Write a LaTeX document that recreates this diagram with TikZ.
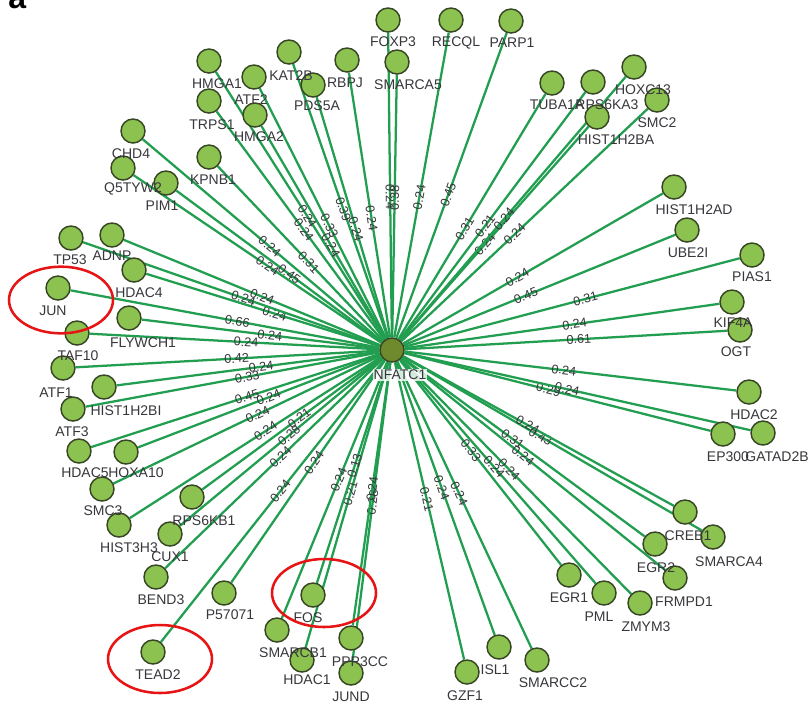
\documentclass[tikz,border=0pt]{standalone}
\usepackage{fontspec}
\setmainfont{Liberation Sans}
\pgfdeclarelayer{back}
\pgfdeclarelayer{links}
\pgfsetlayers{back,links,main}
\definecolor{edgegreen}{RGB}{34,158,80}
\definecolor{nodefill}{RGB}{140,194,80}
\definecolor{nodedraw}{RGB}{55,70,35}
\definecolor{hubfill}{RGB}{110,138,45}
\definecolor{txt}{RGB}{55,55,60}
\definecolor{ringred}{RGB}{230,20,20}
\begin{document}
\begin{tikzpicture}[x=0.75pt,y=-0.75pt,
  gene/.style={circle, fill=nodefill, draw=nodedraw, line width=1.1pt, minimum size=18pt, inner sep=0pt},
  hub/.style={gene, fill=hubfill},
  glab/.style={text=txt, font=\fontsize{10.5}{12}\selectfont, inner sep=0.5pt},
  link/.style={draw=edgegreen, line width=1.7pt},
  elab/.style={text=txt, font=\fontsize{9.5}{11}\selectfont, inner sep=0pt, sloped},
  redring/.style={draw=ringred, line width=1.9pt}]
\useasboundingbox (0,0) rectangle (809,708);
\begin{pgfonlayer}{back}
\fill[white] (0,0) rectangle (809,708);
\end{pgfonlayer}
\def\genelist{FOXP3/388/20/393/42,RECQL/451/20/456/43,PARP1/511/21/512/43,SMARCA5/397/62/408/85,RBPJ/347/60/345/83,PDS5A/313/85/317/106,KAT2B/289/52/291/76,ATF2/254/77/251/100,HMGA1/209/61/217/84,HMGA2/255/115/259/137,TRPS1/209/101/212/125,KPNB1/209/157/213/180,CHD4/133/131/131/154,Q5TYW2/123/168/133/189,PIM1/166/183/162/206,TP53/71/238/70/260,ADNP/112/235/112/256,HDAC4/134/270/139/293,JUN/58/288/53/311,FLYWCH1/129/318/143/343,TAF10/77/333/78/356,ATF1/63/368/56/393,HIST1H2BI/104/387/126/411,ATF3/73/409/72/432,HDAC5/79/451/85/473,HOXA10/126/452/136/473,SMC3/102/489/103/511,HIST3H3/119/525/129/548,RPS6KB1/192/497/204/521,CUX1/170/534/170/557,BEND3/156/577/161/600,P57071/224/593/230/615,TEAD2/153/652/158/675,FOS/313/595/308/618,SMARCB1/277/630/293/653,HDAC1/302/660/307/680,PPP3CC/351/638/360/662,JUND/351/673/351/697,GZF1/467/672/465/696,ISL1/499/647/495/670,SMARCC2/537/660/553/683,EGR1/569/575/569/598,PML/604/593/599/617,ZMYM3/640/603/646/627,FRMPD1/675/578/684/602,EGR2/655/544/656/568,CREB1/685/512/688/536,SMARCA4/713/537/729/562,EP300/723/434/728/457,GATAD2B/763/433/777/457,HDAC2/749/392/754/415,OGT/740/330/736/352,KIF4A/732/302/733/323,PIAS1/752/255/752/277,UBE2I/687/230/688/253,HIST1H2AD/674/187/694/210,SMC2/657/100/657/123,HIST1H2BA/597/117/616/140,HOXC13/634/67/643/90,RPS6KA3/593/82/607/105,TUBA1A/552/83/557/105}
% circles
\node[hub] (NFATC1) at (392,350) {};
\foreach \n/\x/\y/\lx/\ly in \genelist {\node[gene] (\n) at (\x,\y) {};}
% gene labels
\foreach \n/\x/\y/\lx/\ly in \genelist {\node[glab] (\n-l) at (\lx,\ly) {\n};}
\node[glab, fill=white, fill opacity=0.8, text opacity=1] (NFATC1-l) at (400,375) {NFATC1};
% connectors with weights
\begin{pgfonlayer}{links}
\foreach \n/\p/\w in {FOXP3/0.46/0.24,SMARCA5/0.53/0.38,RBPJ/0.45/0.24,RECQL/0.46/0.24,PARP1/0.47/0.45,TUBA1A/0.45/0.31,RPS6KA3/0.46/0.21,HIST1H2BA/0.45/0.24,HOXC13/0.46/0.24,SMC2/0.46/0.24,HIST1H2AD/0.44/0.24,UBE2I/0.45/0.45,PIAS1/0.54/0.31,KIF4A/0.54/0.24,OGT/0.54/0.61,HDAC2/0.48/0.24,EP300/0.47/0.29,GATAD2B/0.47/0.24,SMARCA4/0.46/0.43,CREB1/0.46/0.24,EGR2/0.455/0.31,FRMPD1/0.46/0.24,ZMYM3/0.47/0.24,PML/0.48/0.24,EGR1/0.44/0.33,SMARCC2/0.46/0.24,ISL1/0.46/0.24,GZF1/0.46/0.21,JUND/0.47/0.28,PPP3CC/0.48/0.24,HDAC1/0.46/0.21,FOS/0.47/0.13,SMARCB1/0.46/0.24,P57071/0.46/0.24,TEAD2/0.465/0.24,BEND3/0.47/0.24,CUX1/0.46/0.28,RPS6KB1/0.46/0.21,HIST3H3/0.46/0.24,SMC3/0.46/0.24,HOXA10/0.46/0.24,HDAC5/0.46/0.45,ATF3/0.45/0.33,HIST1H2BI/0.45/0.24,ATF1/0.47/0.42,TAF10/0.46/0.24,FLYWCH1/0.46/0.24,JUN/0.46/0.66,HDAC4/0.45/0.24,ADNP/0.46/0.24,TP53/0.46/0.24,PIM1/0.45/0.45,Q5TYW2/0.46/0.24,CHD4/0.47/0.24,KPNB1/0.45/0.31,TRPS1/0.48/0.24,HMGA1/0.46/0.24,HMGA2/0.44/0.24,ATF2/0.45/0.33,KAT2B/0.47/0.39,PDS5A/0.45/0.24}
  {\draw[link] (NFATC1) -- node[elab, pos=\p] {\w} (\n);}
\end{pgfonlayer}
% highlight rings
\draw[redring] (61,300) ellipse [x radius=39pt, y radius=25pt];
\draw[redring] (324,593) ellipse [x radius=39pt, y radius=25.5pt];
\draw[redring] (160,659) ellipse [x radius=39pt, y radius=25.5pt];
% panel letter
\node[font=\bfseries\fontsize{24}{24}\selectfont, anchor=base west, inner sep=0pt] (panel) at (8,8.5) {a};
\end{tikzpicture}
\end{document}
